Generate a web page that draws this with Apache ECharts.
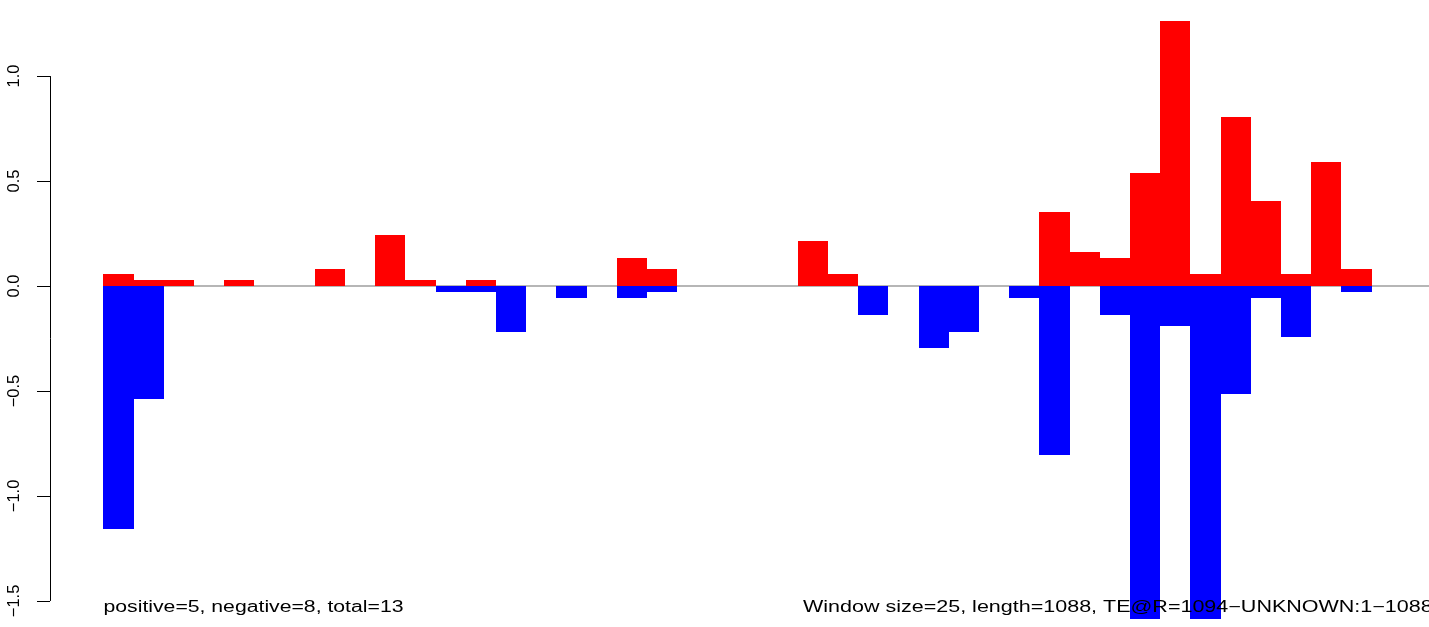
<!DOCTYPE html>
<html>
<head>
<meta charset="utf-8">
<script src="https://cdn.jsdelivr.net/npm/echarts@6/dist/echarts.min.js"></script>
<style>
html,body{margin:0;padding:0;background:#fff;}
#chart{width:1429px;height:627px;}
</style>
</head>
<body>
<div id="chart"></div>
<script>
// ---- data ----
const windowSize = 25;
const seqLength = 1088;
const positiveValues = [0.057,0.029,0.029,0,0.029,0,0,0.081,0,0.243,0.029,0,0.029,0,0,0,0,0.133,0.081,0,0,0,0,0.214,0.057,0,0,0,0,0,0,0.352,0.162,0.133,0.537,1.262,0.057,0.804,0.404,0.057,0.590,0.080,0,0];
const negativeValues = [-1.156,-0.537,0,0,0,0,0,0,0,0,0,-0.029,-0.029,-0.217,0,-0.056,0,-0.056,-0.027,0,0,0,0,0,0,-0.138,0,-0.294,-0.217,0,-0.056,-0.804,0,-0.139,-1.62,-0.190,-1.62,-0.514,-0.057,-0.244,0,-0.029,0,0];
const yTickValues = [-1.5,-1.0,-0.5,0.0,0.5,1.0];
const leftNote = 'positive=5, negative=8, total=13';
const rightNote = 'Window size=25, length=' + seqLength + ', TE@R=1094\u2212UNKNOWN:1\u22121088';

// ---- build ----
const nBins = positiveValues.length;
const posData = positiveValues.map((v, i) => [i * windowSize, (i + 1) * windowSize, v]);
const negData = negativeValues.map((v, i) => [i * windowSize, (i + 1) * windowSize, v]);

function barRenderer(color) {
  return function (params, api) {
    const v = api.value(2);
    if (!v) return null;
    const p0 = api.coord([api.value(0), 0]);
    const p1 = api.coord([api.value(1), v]);
    const x0 = Math.round(p0[0]), x1 = Math.round(p1[0]);
    const ya = Math.round(Math.min(p0[1], p1[1])), yb = Math.round(Math.max(p0[1], p1[1]));
    const cs = params.coordSys;
    const rect = echarts.graphic.clipRectByRect({
      x: x0, y: ya, width: x1 - x0, height: yb - ya
    }, { x: cs.x, y: cs.y, width: cs.width, height: cs.height });
    return rect && { type: 'rect', shape: rect, style: { fill: color, lineWidth: 0 } };
  };
}

const chart = echarts.init(document.getElementById('chart'), null, { renderer: 'canvas' });
const fontFam = '"Liberation Sans", Arial, Helvetica, sans-serif';

chart.setOption({
  animation: false,
  backgroundColor: '#ffffff',
  grid: { left: 50, right: 0, top: 20, bottom: 8, containLabel: false },
  xAxis: { type: 'value', min: -44.2, max: 1097.5, show: false },
  yAxis: {
    type: 'value', min: -1.586, max: 1.267,
    axisLine: { show: false, onZero: false },
    splitLine: { show: false },
    axisTick: { show: true, inside: false, length: 13, customValues: yTickValues, lineStyle: { color: '#000', width: 1 } },
    axisLabel: {
      show: true, rotate: 90, margin: 27, customValues: yTickValues,
      color: '#000', fontFamily: fontFam, fontSize: 16.5,
      formatter: v => Number(v).toFixed(1).replace('-', '\u2212')
    }
  },
  series: [
    {
      type: 'line', z: 1, silent: true, showSymbol: false,
      lineStyle: { color: '#9e9e9e', width: 1.3 },
      data: [[0, 0], [nBins * windowSize, 0]]
    },
    {
      type: 'custom', z: 2, silent: true,
      encode: { x: [0, 1], y: 2 },
      renderItem: barRenderer('#0000ff'),
      data: negData
    },
    {
      type: 'custom', z: 3, silent: true,
      encode: { x: [0, 1], y: 2 },
      renderItem: barRenderer('#ff0000'),
      data: posData
    },
    {
      type: 'custom', z: 4, silent: true,
      renderItem: function (params, api) {
        const x = params.coordSys.x + 0.5;
        const yA = api.coord([0, yTickValues[0]])[1];
        const yB = api.coord([0, yTickValues[yTickValues.length - 1]])[1];
        return { type: 'line', shape: { x1: x, y1: yA, x2: x, y2: yB }, style: { stroke: '#000', lineWidth: 1 } };
      },
      data: [[0, 0]]
    }
  ],
  graphic: [
    {
      type: 'text', x: 103.5, y: 608, scaleX: 1.325, z: 100,
      style: { text: leftNote, fill: '#000', font: '16px ' + fontFam, align: 'left', verticalAlign: 'middle' }
    },
    {
      type: 'text', x: 803, y: 608, scaleX: 1.344, z: 100,
      style: { text: rightNote, fill: '#000', font: '16px ' + fontFam, align: 'left', verticalAlign: 'middle' }
    }
  ]
});
</script>
</body>
</html>
